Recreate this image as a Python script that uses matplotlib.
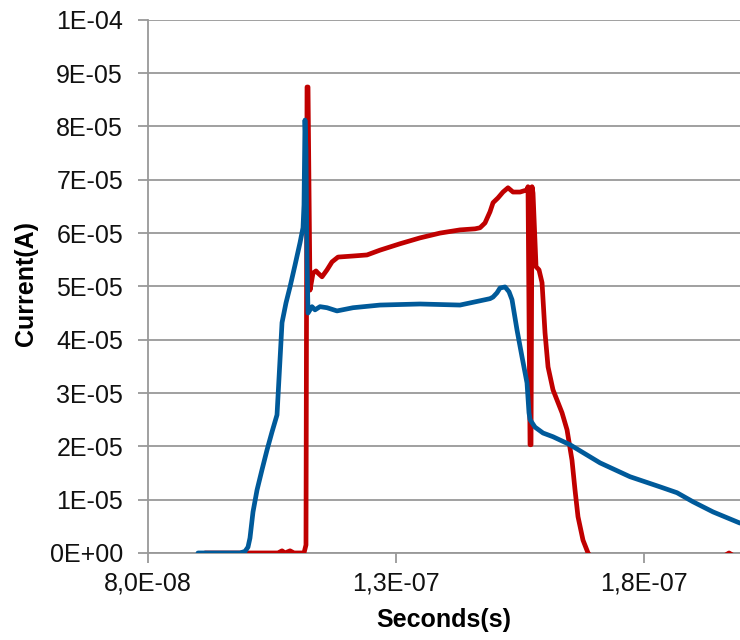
import matplotlib
matplotlib.use("Agg")
import matplotlib.pyplot as plt
from matplotlib.ticker import FuncFormatter, MultipleLocator
import numpy as np

plt.rcParams['font.family'] = ['Liberation Sans', 'DejaVu Sans']

# Datos (tiempo en unidades de 1e-8 s, corriente en 1e-5 A)
t_blue = np.array([9.008, 9.855, 9.956, 10.016, 10.056, 10.087, 10.117, 10.198, 10.298, 10.399,
                   10.500, 10.601, 10.702, 10.782, 10.863, 10.964, 11.065, 11.125, 11.145, 11.165,
                   11.185, 11.206, 11.226, 11.306, 11.367, 11.468, 11.609, 11.810, 12.133, 12.677,
                   13.484, 14.290, 14.694, 14.895, 14.956, 15.036, 15.097, 15.198, 15.278, 15.339,
                   15.440, 15.540, 15.641, 15.681, 15.702, 15.802, 15.964, 16.165, 16.508, 17.113,
                   17.718, 18.323, 18.665, 18.988, 19.391, 19.935])
i_blue = np.array([0.0, 0.0, 0.03, 0.11, 0.28, 0.53, 0.77, 1.18, 1.56, 1.93,
                   2.27, 2.59, 4.32, 4.69, 4.99, 5.40, 5.82, 6.10, 6.53, 8.12,
                   7.56, 5.50, 4.50, 4.62, 4.56, 4.62, 4.60, 4.54, 4.60, 4.65,
                   4.67, 4.65, 4.73, 4.77, 4.80, 4.88, 4.97, 4.99, 4.90, 4.75,
                   4.18, 3.68, 3.19, 2.63, 2.50, 2.36, 2.25, 2.18, 2.03, 1.69,
                   1.43, 1.24, 1.13, 0.96, 0.77, 0.56])

t_red = np.array([9.149, 10.621, 10.702, 10.762, 10.863, 10.944, 11.145, 11.185, 11.206, 11.226,
                  11.266, 11.327, 11.387, 11.427, 11.508, 11.609, 11.710, 11.831, 12.133, 12.415,
                  12.677, 13.081, 13.484, 13.887, 14.290, 14.593, 14.694, 14.794, 14.895, 14.956,
                  15.056, 15.157, 15.258, 15.359, 15.500, 15.641, 15.661, 15.702, 15.722, 15.742,
                  15.762, 15.823, 15.883, 15.944, 16.004, 16.065, 16.165, 16.347, 16.448, 16.548,
                  16.609, 16.669, 16.770, 16.871, 17.113, 19.129, 19.452, 19.714, 19.976])
i_red = np.array([0.0, 0.0, 0.04, 0.0, 0.04, 0.0, 0.0, 0.15, 8.74, 8.74,
                  4.93, 5.25, 5.29, 5.25, 5.18, 5.31, 5.46, 5.55, 5.57, 5.59,
                  5.68, 5.80, 5.91, 6.00, 6.06, 6.08, 6.10, 6.19, 6.40, 6.57,
                  6.66, 6.77, 6.85, 6.77, 6.77, 6.81, 6.87, 2.03, 2.03, 6.87,
                  6.75, 5.37, 5.31, 5.07, 4.13, 3.49, 3.06, 2.63, 2.31, 1.74,
                  1.18, 0.68, 0.24, 0.0, -0.3, -0.3, -0.15, 0.0, -0.15])

x_ticks = [8.0e-8, 1.3e-7, 1.8e-7]

fig = plt.figure(figsize=(7.4, 6.4), dpi=100)
ax = fig.add_axes([0.2, 0.136, 0.8, 0.833])

ax.plot(t_red * 1e-8, i_red * 1e-5, color='#C00000', lw=3.4,
        solid_joinstyle='round', solid_capstyle='round', zorder=3)
ax.plot(t_blue * 1e-8, i_blue * 1e-5, color='#005A9A', lw=3.4,
        solid_joinstyle='round', solid_capstyle='round', zorder=4)

ax.set_xlim(8.0e-8, 1.9935e-7)
ax.set_ylim(0, 1e-4)
ax.set_xticks(x_ticks)
ax.yaxis.set_major_locator(MultipleLocator(1e-5))
ax.xaxis.set_major_formatter(FuncFormatter(lambda v, p: ('%.1E' % v).replace('.', ',')))
ax.yaxis.set_major_formatter(FuncFormatter(lambda v, p: '%.0E' % v))

ax.grid(axis='y', color='#999999', lw=1.3)
ax.set_axisbelow(True)
for s in ['top', 'right']:
    ax.spines[s].set_visible(False)
for s in ['left', 'bottom']:
    ax.spines[s].set_color('#999999')
    ax.spines[s].set_linewidth(1.3)
ax.tick_params(axis='both', color='#999999', length=7, width=1.3, labelsize=18, labelcolor='#111111')
ax.tick_params(axis='y', pad=11)
ax.tick_params(axis='x', pad=6)

ax.set_xlabel('Seconds(s)', fontsize=18, fontweight='bold')
ax.set_ylabel('Current(A)', fontsize=18, fontweight='bold')
ax.xaxis.set_label_coords(0.499, -0.104)
ax.yaxis.set_label_coords(-0.185, 0.505)

fig.savefig('out.png', dpi=100)
